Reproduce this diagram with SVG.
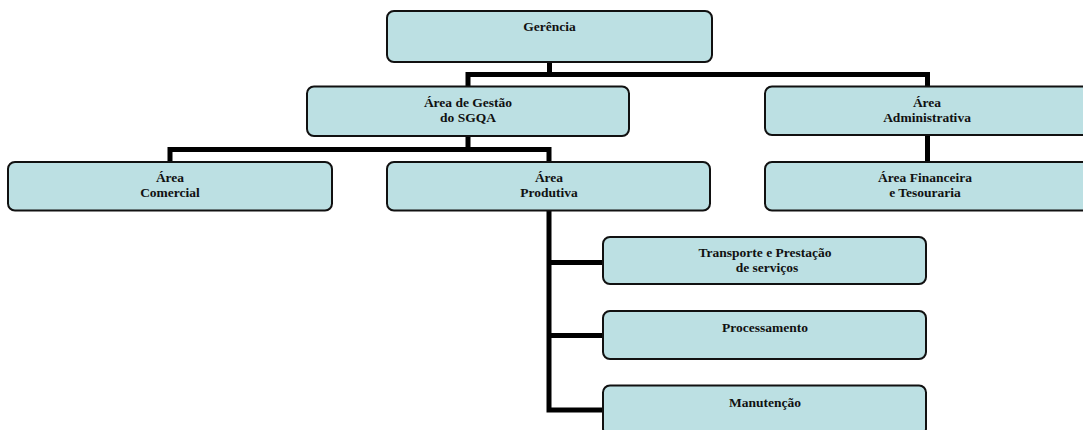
<svg xmlns="http://www.w3.org/2000/svg" width="1083" height="430" viewBox="0 0 1083 430">
<style>
.box{fill:#BCE0E3;stroke:#111;stroke-width:2}
.t{font-family:"Liberation Serif",serif;font-weight:bold;font-size:13.5px;fill:#111;text-anchor:middle}
.c{fill:none;stroke:#000;stroke-width:5;stroke-linecap:butt;stroke-linejoin:miter}
</style>
<rect width="1083" height="430" fill="#fff"/>
<g id="connectors">
<path class="c" d="M549.5,62 V74.5 M468,87 V74.5 H927.5 V87"/>
<path class="c" d="M468,136 V149.5 M170,162 V149.5 H549 V162"/>
<path class="c" d="M927.5,135 V162"/>
<path class="c" d="M549,210 V410 H603 M549,262.5 H603 M549,335.5 H603"/>
</g>
<g id="gerencia"><rect class="box" x="387" y="11" width="325" height="51" rx="7"/><text class="t" x="549.5" y="31">Gerência</text></g>
<g id="gestao"><rect class="box" x="307" y="86.5" width="322" height="49.5" rx="7"/><text class="t" x="468" y="107">Área de Gestão</text><text class="t" x="468" y="122">do SGQA</text></g>
<g id="administrativa"><rect class="box" x="765" y="86.5" width="325" height="48.5" rx="7"/><text class="t" x="927" y="107">Área</text><text class="t" x="927" y="122">Administrativa</text></g>
<g id="comercial"><rect class="box" x="8" y="162" width="324" height="48.5" rx="7"/><text class="t" x="170" y="182">Área</text><text class="t" x="170" y="197">Comercial</text></g>
<g id="produtiva"><rect class="box" x="387" y="162" width="323" height="48.5" rx="7"/><text class="t" x="549" y="182">Área</text><text class="t" x="549" y="197">Produtiva</text></g>
<g id="financeira"><rect class="box" x="765" y="162" width="325" height="48.5" rx="7"/><text class="t" x="925" y="182">Área Financeira</text><text class="t" x="925" y="197">e Tesouraria</text></g>
<g id="transporte"><rect class="box" x="603" y="237" width="323" height="47" rx="7"/><text class="t" x="765" y="257">Transporte e Prestação</text><text class="t" x="767" y="272">de serviços</text></g>
<g id="processamento"><rect class="box" x="603" y="311" width="323" height="48" rx="7"/><text class="t" x="765" y="332">Processamento</text></g>
<g id="manutencao"><rect class="box" x="603" y="385.5" width="323" height="50" rx="7"/><text class="t" x="765" y="407">Manutenção</text></g>
</svg>
